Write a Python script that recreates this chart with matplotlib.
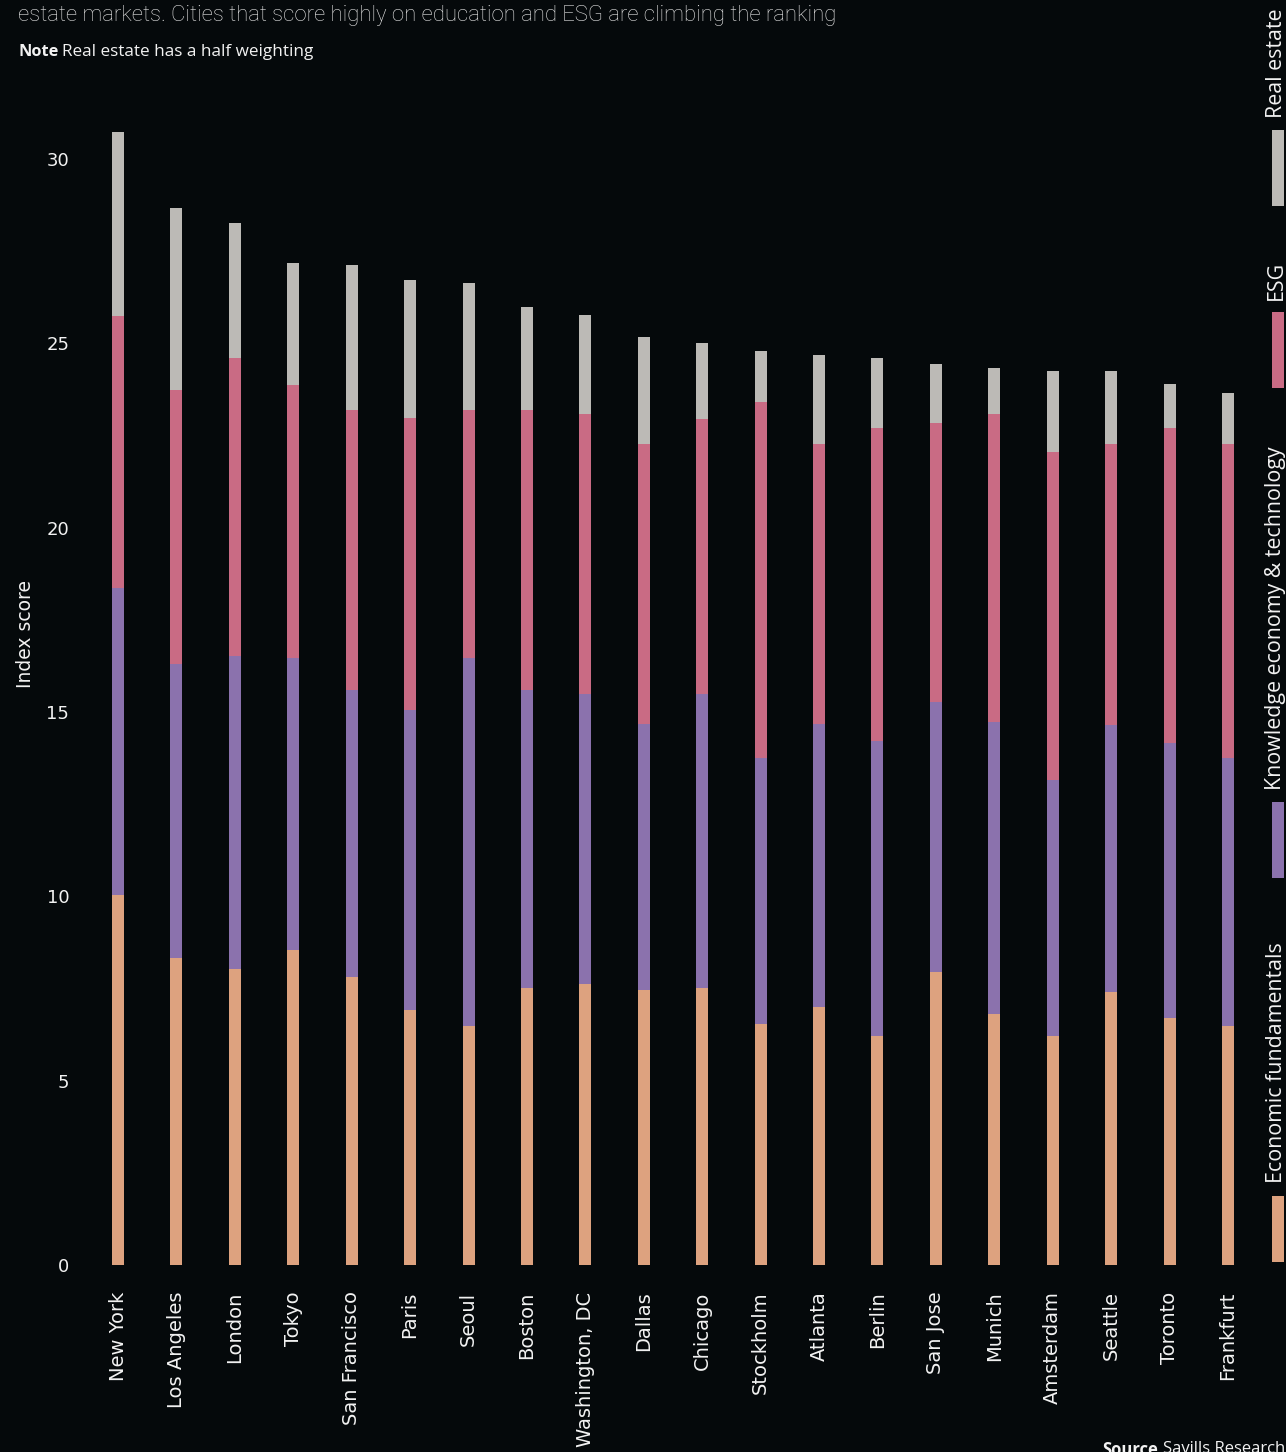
import matplotlib
matplotlib.use('Agg')
import matplotlib.pyplot as plt
from matplotlib.patches import Rectangle

cities = ["New York", "Los Angeles", "London", "Tokyo", "San Francisco", "Paris", "Seoul",
          "Boston", "Washington, DC", "Dallas", "Chicago", "Stockholm", "Atlanta", "Berlin",
          "San Jose", "Munich", "Amsterdam", "Seattle", "Toronto", "Frankfurt"]
econ = [10.04, 8.33, 8.03, 8.54, 7.81, 6.92, 6.48, 7.51, 7.62, 7.46,
        7.51, 6.54, 7.00, 6.21, 7.95, 6.81, 6.21, 7.40, 6.70, 6.48]
know = [8.32, 7.97, 8.49, 7.92, 7.79, 8.13, 9.98, 8.09, 7.87, 7.21,
        7.98, 7.21, 7.67, 8.00, 7.32, 7.92, 6.94, 7.25, 7.46, 7.27]
esg = [7.38, 7.43, 8.08, 7.41, 7.59, 7.92, 6.73, 7.59, 7.59, 7.60,
       7.46, 9.66, 7.60, 8.49, 7.57, 8.35, 8.90, 7.62, 8.54, 8.52]
real = [4.99, 4.94, 3.66, 3.31, 3.93, 3.75, 3.44, 2.79, 2.69, 2.90,
        2.06, 1.38, 2.41, 1.90, 1.60, 1.25, 2.20, 1.98, 1.19, 1.38]
series_names = ["Economic fundamentals", "Knowledge economy & technology", "ESG", "Real estate"]
yticks = [0, 5, 10, 15, 20, 25, 30]

BG = '#05090b'
C_EF = '#dda27f'
C_KE = '#8b72ad'
C_ESG = '#c96b84'
C_RE = '#bcbab6'
TXT = '#f2f2f2'
OPEN = ['Open Sans', 'DejaVu Sans']
DJ = ['DejaVu Sans']
plt.rcParams['font.family'] = OPEN

W, H = 1286, 1452
fig = plt.figure(figsize=(W / 100, H / 100), dpi=100, facecolor=BG)
ax = fig.add_axes([88.8 / W, (H - 1265) / H, 1168.4 / W, 1143 / H])
ax.set_facecolor(BG)

x = list(range(len(cities)))
bw = 0.205
b1 = econ
b2 = [a + b for a, b in zip(econ, know)]
b3 = [a + b for a, b in zip(b2, esg)]
ax.bar(x, econ, width=bw, color=C_EF, linewidth=0)
ax.bar(x, know, width=bw, bottom=b1, color=C_KE, linewidth=0)
ax.bar(x, esg, width=bw, bottom=b2, color=C_ESG, linewidth=0)
ax.bar(x, real, width=bw, bottom=b3, color=C_RE, linewidth=0)

ax.set_xlim(-0.5, len(cities) - 0.5)
ax.set_ylim(0, 31)
ax.set_yticks(yticks)
ax.set_yticklabels([str(t) for t in yticks], fontsize=13, color=TXT, family=DJ)
ax.set_xticks(x)
ax.set_xticklabels(cities, rotation=90, fontsize=14, color=TXT, va='top', ha='center',
                   family=DJ)
ax.tick_params(axis='both', length=0)
ax.tick_params(axis='y', pad=14)
ax.tick_params(axis='x', pad=19)
for s in ax.spines.values():
    s.set_visible(False)

fig.text(26 / W, 1 - 634 / H, "Index score", rotation=90, ha='center', va='center',
         fontsize=13.5, color=TXT, family=DJ)

# header
fig.text(18 / W, 1 - 15 / H,
         "estate markets. Cities that score highly on education and ESG are climbing the ranking",
         fontsize=15.9, color='#e6e6e6', ha='left', va='center', family=['Roboto', 'DejaVu Sans'],
         fontweight='light')
fig.text(18 / W, 1 - 52 / H, "Note", fontsize=11.8, color=TXT, fontweight='bold',
         ha='left', va='center')
fig.text(62 / W, 1 - 52 / H, "Real estate has a half weighting", fontsize=12.3, color=TXT,
         ha='left', va='center')

# legend (rotated, on the right)
leg = [
    (series_names[3], C_RE, 130, 206, 118),
    (series_names[2], C_ESG, 312, 388, 300),
    (series_names[1], C_KE, 802, 878, 790),
    (series_names[0], C_EF, 1196, 1262, 1183),
]
for name, col, ptop, pbot, tbot in leg:
    fig.patches.append(Rectangle((1272 / W, 1 - pbot / H), 12 / W, (pbot - ptop) / H,
                                 transform=fig.transFigure, facecolor=col, edgecolor='none'))
    fig.text(1276 / W, 1 - tbot / H, name, rotation=90, ha='center', va='bottom',
             fontsize=15.4, color=TXT)

# source
fig.text(1102 / W, 1 - 1441 / H, "Source", fontsize=12, fontweight='bold', color=TXT,
         ha='left', va='top')
fig.text(1163 / W, 1 - 1441 / H, "Savills Research", fontsize=12, color=TXT,
         ha='left', va='top')

fig.savefig('out.png', dpi=100, facecolor=BG)
